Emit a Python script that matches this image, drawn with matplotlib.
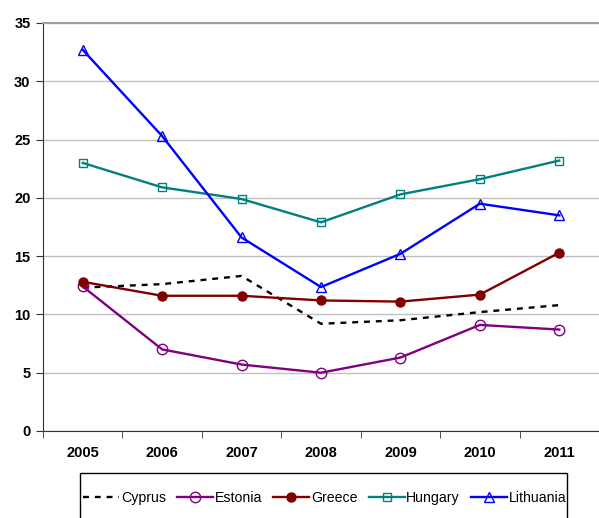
import matplotlib
matplotlib.use("Agg")
import matplotlib.pyplot as plt
from matplotlib.ticker import MultipleLocator
from matplotlib.patches import Rectangle

years = ["2005", "2006", "2007", "2008", "2009", "2010", "2011"]
cyprus = [12.3, 12.6, 13.3, 9.2, 9.5, 10.2, 10.8]
estonia = [12.4, 7.0, 5.7, 5.0, 6.3, 9.1, 8.7]
greece = [12.8, 11.6, 11.6, 11.2, 11.1, 11.7, 15.3]
hungary = [23.0, 20.9, 19.9, 17.9, 20.3, 21.6, 23.2]
lithuania = [32.7, 25.3, 16.6, 12.35, 15.2, 19.5, 18.5]

plt.rcParams['font.family'] = ['Liberation Sans', 'DejaVu Sans']

fig = plt.figure(figsize=(5.99, 5.18), dpi=100)
ax = fig.add_axes([43/599, 87/518, 556/599, 408/518])

x = list(range(len(years)))
lw = 1.7
ax.plot(x, cyprus, color='black', linestyle=(0, (2.5, 2.5)), lw=lw, label='Cyprus')
ax.plot(x, estonia, color='#800080', lw=lw, marker='o', ms=7.5, mfc='none', mew=1.0, label='Estonia')
ax.plot(x, greece, color='#800000', lw=lw, marker='o', ms=6.5, mfc='#800000', mew=1.0, label='Greece')
ax.plot(x, hungary, color='#008080', lw=lw, marker='s', ms=6, mfc='none', mew=1.0, label='Hungary')
ax.plot(x, lithuania, color='#0000ff', lw=lw, marker='^', ms=7, mfc='none', mew=1.0, label='Lithuania')

ax.set_xlim(-0.5, 6.5)
ax.set_ylim(0, 35)
ax.yaxis.set_major_locator(MultipleLocator(5))
ax.set_xticks(x)
ax.set_xticklabels(years, fontweight='bold', fontsize=10.5)
ax.set_xticks([i - 0.5 for i in range(8)], minor=True)
ax.tick_params(axis='x', which='major', length=0, pad=11)
ax.tick_params(axis='x', which='minor', length=5, direction='out', color='#333333')
ax.tick_params(axis='y', length=5, direction='out', color='#333333', pad=4)
for lbl in ax.get_yticklabels():
    lbl.set_fontweight('bold')
    lbl.set_fontsize(10.5)

ax.grid(axis='y', color='#c0c0c0', lw=1)
ax.set_axisbelow(True)
ax.spines['right'].set_visible(False)
ax.spines['top'].set_color('#a0a0a0')
ax.spines['top'].set_linewidth(1.5)
ax.spines['left'].set_color('#333333')
ax.spines['bottom'].set_color('#333333')

leg = fig.legend(loc='center left', bbox_to_anchor=(83/599, 20/518),
                 ncol=5, frameon=False, fontsize=10.2, handlelength=2.55,
                 handletextpad=0.12, columnspacing=0.78, borderpad=0,
                 borderaxespad=0)
fig.patches.append(Rectangle((80/599, -5/518), 487/599, 50/518,
                             transform=fig.transFigure, fill=False,
                             edgecolor='black', lw=1.0))

fig.savefig('out.png', dpi=100)
